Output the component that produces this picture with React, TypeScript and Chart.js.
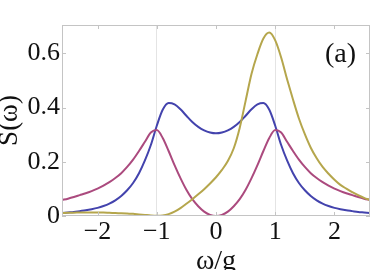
import { useEffect, useRef } from 'react';
import { Chart, registerables } from 'chart.js';

Chart.register(...registerables);

const xValues = [
  -2.6, -2.5, -2.4, -2.3, -2.2, -2.1, -2.0, -1.9, -1.8, -1.7, -1.6, -1.5, -1.4, -1.3, -1.2, -1.1, -1.0, -0.9, -0.8, -0.7, -0.6, -0.5, -0.4, -0.3, -0.2, -0.1,
  0.0, 0.1, 0.2, 0.3, 0.4, 0.5, 0.6, 0.7, 0.8, 0.9, 1.0, 1.1, 1.2, 1.3, 1.4, 1.5, 1.6, 1.7, 1.8, 1.9, 2.0, 2.1, 2.2, 2.3, 2.4, 2.5, 2.6,
];

const blueValues = [
  0.011, 0.013, 0.015, 0.018, 0.021, 0.025, 0.030, 0.037, 0.046, 0.058, 0.074, 0.095, 0.122, 0.158, 0.205, 0.262, 0.333, 0.392, 0.417, 0.412, 0.394, 0.370, 0.347, 0.329, 0.316, 0.308,
  0.305, 0.308, 0.316, 0.329, 0.347, 0.370, 0.394, 0.412, 0.417, 0.392, 0.333, 0.262, 0.205, 0.158, 0.122, 0.095, 0.074, 0.058, 0.046, 0.037, 0.030, 0.025, 0.021, 0.018, 0.015, 0.013, 0.011,
];

const magentaValues = [
  0.059, 0.064, 0.070, 0.077, 0.084, 0.092, 0.101, 0.112, 0.125, 0.140, 0.158, 0.181, 0.208, 0.240, 0.274, 0.308, 0.317, 0.288, 0.240, 0.188, 0.140, 0.097, 0.062, 0.036, 0.016, 0.004,
  0.000, 0.004, 0.016, 0.036, 0.062, 0.097, 0.140, 0.188, 0.240, 0.288, 0.317, 0.308, 0.274, 0.240, 0.208, 0.181, 0.158, 0.140, 0.125, 0.112, 0.101, 0.092, 0.084, 0.077, 0.070, 0.064, 0.059,
];

const yellowValues = [
  0.011, 0.012, 0.012, 0.013, 0.013, 0.013, 0.013, 0.013, 0.012, 0.011, 0.010, 0.009, 0.008, 0.006, 0.004, 0.002, 0.001, 0.002, 0.007, 0.016, 0.029, 0.045, 0.062, 0.080, 0.099, 0.120,
  0.143, 0.170, 0.203, 0.250, 0.325, 0.425, 0.525, 0.598, 0.655, 0.677, 0.648, 0.585, 0.505, 0.430, 0.360, 0.302, 0.252, 0.213, 0.181, 0.156, 0.134, 0.115, 0.101, 0.088, 0.077, 0.067, 0.059,
];

const xTickValues = [-2, -1, 0, 1, 2];
const xTickLabels = ['\u22122', '\u22121', '0', '1', '2'];
const yTickValues = [0, 0.2, 0.4, 0.6];
const yTickLabels = ['0', '0.2', '0.4', '0.6'];
const xGridValues = [-1, 1];
const panelLabel = '(a)';
const xTitle = '\u03c9/g';
const yTitle = 'S(\u03c9)';

const SERIF = "'Liberation Serif', 'Times New Roman', Times, serif";

const framePlugin = {
  id: 'frame',
  afterDatasetsDraw(chart: any) {
    const { ctx, chartArea } = chart;
    const { left, right, top, bottom } = chartArea;
    const xs = chart.scales.x;
    const ys = chart.scales.y;
    ctx.save();
    ctx.strokeStyle = '#c4c4c4';
    ctx.lineWidth = 1;
    ctx.strokeRect(left + 0.5, top + 0.5, right - left - 1, bottom - top - 1);
    const tl = 4;
    ctx.beginPath();
    for (const v of xTickValues) {
      const px = Math.round(xs.getPixelForValue(v)) + 0.5;
      ctx.moveTo(px, top);
      ctx.lineTo(px, top + tl);
      ctx.moveTo(px, bottom);
      ctx.lineTo(px, bottom - tl);
    }
    for (const v of yTickValues) {
      const py = Math.round(ys.getPixelForValue(v)) + 0.5;
      ctx.moveTo(left, py);
      ctx.lineTo(left + tl, py);
      ctx.moveTo(right, py);
      ctx.lineTo(right - tl, py);
    }
    ctx.stroke();
    ctx.fillStyle = '#111';
    ctx.font = `28px ${SERIF}`;
    ctx.textAlign = 'right';
    ctx.textBaseline = 'alphabetic';
    ctx.fillText(panelLabel, 356, 62);
    ctx.restore();
  },
};

export default function App() {
  const ref = useRef<HTMLCanvasElement | null>(null);
  useEffect(() => {
    document.body.style.margin = '0';
    const canvas = ref.current;
    if (!canvas) return;
    let chart: any = null;
    let cancelled = false;
    const mk = (vals: number[]) => xValues.map((x, i) => ({ x, y: vals[i] }));
    const build = () => {
      if (cancelled) return;
      chart = new Chart(canvas, {
        type: 'line',
        data: {
          datasets: [
            { label: 'c', data: mk(yellowValues), borderColor: '#b5a64c', borderWidth: 2, pointRadius: 0, cubicInterpolationMode: 'monotone', fill: false },
            { label: 'b', data: mk(magentaValues), borderColor: '#ab4a7e', borderWidth: 2, pointRadius: 0, cubicInterpolationMode: 'monotone', fill: false },
            { label: 'a', data: mk(blueValues), borderColor: '#4343ad', borderWidth: 2, pointRadius: 0, cubicInterpolationMode: 'monotone', fill: false },
          ],
        },
        options: {
          animation: false,
          responsive: false,
          maintainAspectRatio: false,
          layout: { padding: { top: 25, right: 4, left: 0, bottom: 0 } },
          plugins: { legend: { display: false }, tooltip: { enabled: false } },
          scales: {
            x: {
              type: 'linear',
              min: -2.6,
              max: 2.6,
              afterBuildTicks: (s: any) => { s.ticks = xTickValues.map((v) => ({ value: v })); },
              afterFit: (s: any) => { s.height = 54; },
              ticks: {
                color: '#111',
                padding: 1,
                maxRotation: 0,
                autoSkip: false,
                font: { family: SERIF, size: 26 },
                callback: (v: any) => xTickLabels[xTickValues.indexOf(Number(v))] ?? '',
              },
              grid: {
                drawTicks: false,
                color: (c: any) => (c.tick && xGridValues.includes(c.tick.value) ? '#e4e4e4' : 'rgba(0,0,0,0)'),
              },
              border: { display: false },
              title: {
                display: true,
                text: xTitle,
                color: '#111',
                padding: 0,
                font: { family: SERIF, size: 28, lineHeight: 0.6 },
              },
            },
            y: {
              type: 'linear',
              min: 0,
              max: 0.705,
              afterBuildTicks: (s: any) => { s.ticks = yTickValues.map((v) => ({ value: v })); },
              afterFit: (s: any) => { s.width = 62; },
              ticks: {
                color: '#111',
                padding: 2,
                autoSkip: false,
                font: { family: SERIF, size: 26 },
                callback: (v: any) => yTickLabels[yTickValues.indexOf(Number(v))] ?? '',
              },
              grid: { display: false, drawTicks: false },
              border: { display: false },
              title: {
                display: true,
                text: yTitle,
                color: '#111',
                padding: 0,
                font: { family: SERIF, size: 27, lineHeight: 0.75 },
              },
            },
          },
        },
        plugins: [framePlugin],
      } as any);
    };
    const fonts: any = (document as any).fonts;
    if (fonts && fonts.load) {
      Promise.all([
        fonts.load(`26px 'Liberation Serif'`),
        fonts.load(`28px 'Liberation Serif'`, '\u03c9/g(a)'),
      ]).then(build, build);
    } else {
      build();
    }
    return () => {
      cancelled = true;
      if (chart) chart.destroy();
    };
  }, []);
  return (
    <div style={{ position: 'fixed', left: 0, top: 0, width: 374, height: 270, background: '#fff' }}>
      <canvas ref={ref} width={374} height={270} style={{ width: 374, height: 270 }} />
    </div>
  );
}
